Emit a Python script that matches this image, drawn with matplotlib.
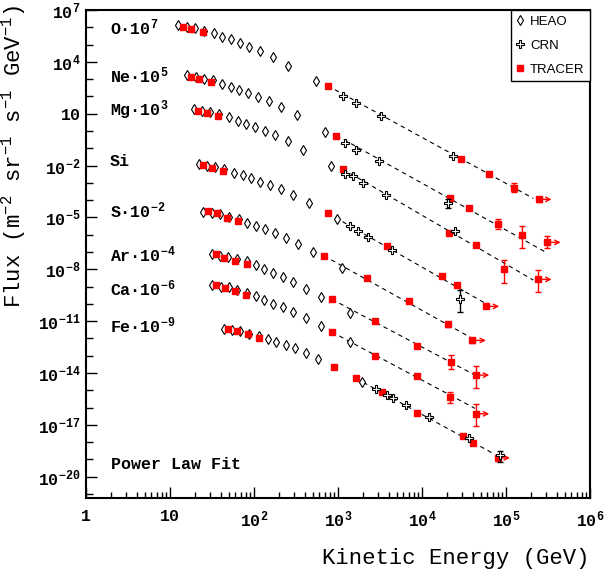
"""Flux spectra of cosmic-ray nuclei O..Fe from HEAO, CRN and TRACER, with power law fits."""

import numpy as np
import matplotlib

matplotlib.use("Agg")
import matplotlib.pyplot as plt
from matplotlib.ticker import FixedLocator, FixedFormatter, LogLocator, NullFormatter

# All values are log10: energy in GeV, flux scaled by the factor in the label.
O_HEAO_E = [1.099, 1.202, 1.298, 1.405, 1.520, 1.623, 1.726, 1.833, 1.944, 2.075, 2.223, 2.408, 2.738]
O_HEAO_F = [6.110, 6.034, 5.941, 5.802, 5.652, 5.455, 5.304, 5.108, 4.876, 4.645, 4.280, 3.777, 2.891]
O_TRACER_E = [1.151, 1.250, 1.389, 2.877, 4.464, 4.801, 5.095, 5.389]
O_TRACER_F = [5.999, 5.900, 5.709, 2.619, -1.605, -2.491, -3.272, -3.955]
O_CRN_E = [3.056, 3.214, 3.508, 4.373]
O_CRN_F = [2.041, 1.635, 0.866, -1.432]
O_FIT_E = [2.877, 5.325]
O_FIT_F = [2.619, -3.897]

NE_HEAO_E = [1.202, 1.306, 1.405, 1.508, 1.623, 1.726, 1.821, 1.932, 2.051, 2.179, 2.325, 2.508, 2.845]
NE_HEAO_F = [3.221, 3.105, 3.019, 2.932, 2.718, 2.561, 2.388, 2.214, 1.983, 1.734, 1.387, 0.906, -0.043]
NE_TRACER_E = [1.254, 1.349, 1.490, 2.982, 4.333, 4.563, 4.901, 5.194, 5.492]
NE_TRACER_F = [3.123, 3.036, 2.822, -0.263, -3.851, -4.441, -5.402, -5.992, -6.443]
NE_CRN_E = [3.086, 3.218, 3.488, 4.310]
NE_CRN_F = [-0.668, -1.102, -1.750, -4.169]
NE_FIT_E = [2.982, 5.464]
NE_FIT_F = [-0.263, -6.987]

MG_HEAO_E = [1.280, 1.381, 1.482, 1.586, 1.699, 1.804, 1.902, 2.014, 2.125, 2.254, 2.405, 2.586, 2.920]
MG_HEAO_F = [1.271, 1.167, 1.097, 0.964, 0.791, 0.605, 0.426, 0.258, 0.027, -0.251, -0.581, -1.073, -2.028]
MG_TRACER_E = [1.330, 1.437, 1.571, 3.063, 4.327, 4.643, 4.979, 5.385]
MG_TRACER_F = [1.184, 1.057, 0.866, -2.219, -5.905, -6.617, -8.006, -8.584]
MG_CRN_E = [3.083, 3.175, 3.301, 3.568, 4.393]
MG_CRN_F = [-2.491, -2.606, -2.994, -3.706, -5.772]
MG_FIT_E = [3.063, 5.325]
MG_FIT_F = [-2.219, -8.625]

SI_HEAO_E = [1.345, 1.443, 1.536, 1.646, 1.765, 1.865, 1.970, 2.074, 2.193, 2.319, 2.468, 2.655, 2.988]
SI_HEAO_F = [-1.929, -2.028, -2.074, -2.201, -2.416, -2.560, -2.722, -2.936, -3.116, -3.376, -3.718, -4.186, -5.112]
SI_TRACER_E = [1.396, 1.494, 1.635, 2.881, 3.587, 4.240, 4.420, 4.762]
SI_TRACER_F = [-1.987, -2.126, -2.317, -4.765, -6.628, -8.365, -8.885, -10.147]
SI_CRN_E = [3.143, 3.235, 3.361, 3.639, 4.456]
SI_CRN_F = [-5.483, -5.772, -6.119, -6.889, -9.725]
SI_FIT_E = [2.881, 4.770]
SI_FIT_F = [-4.765, -10.014]

S_HEAO_E = [1.396, 1.500, 1.595, 1.702, 1.825, 1.920, 2.024, 2.135, 2.254, 2.375, 2.527, 2.708, 3.044]
S_HEAO_F = [-4.672, -4.748, -4.806, -4.962, -5.095, -5.309, -5.500, -5.691, -5.894, -6.166, -6.513, -6.976, -7.913]
S_TRACER_E = [1.449, 1.556, 1.682, 1.813, 2.833, 3.345, 3.849, 4.310, 4.599]
S_TRACER_F = [-4.632, -4.730, -5.020, -5.228, -7.219, -8.492, -9.823, -11.189, -12.115]
S_CRN_E = []
S_CRN_F = []
S_FIT_E = [2.833, 4.599]
S_FIT_F = [-7.219, -11.999]

AR_HEAO_E = [1.495, 1.595, 1.696, 1.795, 1.917, 2.024, 2.123, 2.230, 2.342, 2.470, 2.623, 2.801, 3.143]
AR_HEAO_F = [-7.138, -7.236, -7.277, -7.427, -7.543, -7.757, -8.006, -8.203, -8.451, -8.741, -9.117, -9.591, -10.552]
AR_TRACER_E = [1.548, 1.646, 1.774, 1.911, 2.929, 3.444, 3.940, 4.345, 4.639]
AR_TRACER_F = [-7.132, -7.334, -7.514, -7.670, -9.742, -11.015, -12.444, -13.353, -14.123]
AR_CRN_E = []
AR_CRN_F = []
AR_FIT_E = [2.929, 4.631]
AR_FIT_F = [-9.742, -14.123]

CA_HEAO_E = [1.496, 1.604, 1.699, 1.798, 1.917, 2.024, 2.123, 2.230, 2.342, 2.470, 2.623, 2.801, 3.139]
CA_HEAO_F = [-8.914, -9.013, -9.047, -9.175, -9.377, -9.551, -9.800, -9.997, -10.205, -10.477, -10.841, -11.270, -12.213]
CA_TRACER_E = [1.548, 1.652, 1.774, 1.908, 2.929, 3.444, 3.944, 4.339, 4.639]
CA_TRACER_F = [-8.885, -9.071, -9.279, -9.505, -11.634, -13.023, -14.198, -15.378, -16.362]
CA_CRN_E = []
CA_CRN_F = []
CA_FIT_E = [2.929, 4.631]
CA_FIT_F = [-11.634, -16.050]

FE_HEAO_E = [1.646, 1.743, 1.836, 1.940, 2.063, 2.163, 2.264, 2.375, 2.488, 2.617, 2.764, 3.286]
FE_HEAO_F = [-11.461, -11.530, -11.576, -11.733, -11.883, -12.039, -12.225, -12.375, -12.578, -12.850, -13.179, -14.510]
FE_TRACER_E = [1.696, 1.794, 1.923, 2.054, 2.956, 3.214, 3.518, 3.940, 4.492, 4.604, 4.899]
FE_TRACER_F = [-11.432, -11.576, -11.767, -11.981, -13.677, -14.314, -15.106, -16.304, -17.653, -18.058, -18.909]
FE_CRN_E = [3.456, 3.583, 3.655, 3.804, 4.086, 4.554, 4.932]
FE_CRN_F = [-14.944, -15.251, -15.471, -15.870, -16.571, -17.786, -18.752]
FE_FIT_E = [3.214, 4.869]
FE_FIT_F = [-14.314, -18.712]

# TRACER vertical error bars (log10 E, log10 F, lower, upper)
TRACER_ERR_E = [5.095, 5.389, 4.901, 5.194, 5.492, 4.643, 4.979, 5.385, 4.420, 4.762, 4.310, 4.599,
                4.345, 4.639, 4.339, 4.639, 4.899]
TRACER_ERR_F = [-3.272, -3.955, -5.402, -5.992, -6.443, -6.617, -8.006, -8.584, -8.885, -10.147, -11.189,
                -12.115, -13.353, -14.123, -15.378, -16.362, -18.909]
TRACER_ERR_LO = [-3.515, -4.080, -5.690, -6.756, -6.790, -6.720, -8.816, -9.337, -8.990, -10.250, -11.350,
                 -12.250, -13.793, -14.858, -15.726, -17.074, -19.000]
TRACER_ERR_HI = [-3.029, -3.830, -5.110, -5.483, -6.060, -6.520, -7.468, -8.046, -8.780, -10.050, -11.030,
                 -11.980, -12.965, -13.602, -15.106, -15.818, -18.800]

# CRN vertical error bars
CRN_ERR_E = [4.310, 4.456, 4.932]
CRN_ERR_F = [-4.169, -9.725, -18.752]
CRN_ERR_LO = [-4.430, -10.459, -19.140]
CRN_ERR_HI = [-3.910, -9.204, -18.503]

# TRACER lower limits in energy (arrow from E to E_END)
LIMIT_E = [5.389, 5.492, 5.385, 4.762, 4.599, 4.639, 4.639, 4.899]
LIMIT_E_END = [5.543, 5.651, 5.544, 4.920, 4.762, 4.801, 4.801, 5.048]
LIMIT_F = [-3.955, -6.443, -8.584, -10.147, -12.115, -14.123, -16.362, -18.909]

LABELS = ["O\u00b710$^{7}$", "Ne\u00b710$^{5}$", "Mg\u00b710$^{3}$", "Si", "S\u00b710$^{-2}$",
          "Ar\u00b710$^{-4}$", "Ca\u00b710$^{-6}$", "Fe\u00b710$^{-9}$"]
LABEL_Y = [0.963, 0.866, 0.795, 0.690, 0.588, 0.498, 0.430, 0.353]

YTICK_EXP = [7, 4, 1, -2, -5, -8, -11, -14, -17, -20]
XTICK_EXP = [0, 1, 2, 3, 4, 5, 6]

SERIES = [
    (O_HEAO_E, O_HEAO_F, O_TRACER_E, O_TRACER_F, O_CRN_E, O_CRN_F, O_FIT_E, O_FIT_F),
    (NE_HEAO_E, NE_HEAO_F, NE_TRACER_E, NE_TRACER_F, NE_CRN_E, NE_CRN_F, NE_FIT_E, NE_FIT_F),
    (MG_HEAO_E, MG_HEAO_F, MG_TRACER_E, MG_TRACER_F, MG_CRN_E, MG_CRN_F, MG_FIT_E, MG_FIT_F),
    (SI_HEAO_E, SI_HEAO_F, SI_TRACER_E, SI_TRACER_F, SI_CRN_E, SI_CRN_F, SI_FIT_E, SI_FIT_F),
    (S_HEAO_E, S_HEAO_F, S_TRACER_E, S_TRACER_F, S_CRN_E, S_CRN_F, S_FIT_E, S_FIT_F),
    (AR_HEAO_E, AR_HEAO_F, AR_TRACER_E, AR_TRACER_F, AR_CRN_E, AR_CRN_F, AR_FIT_E, AR_FIT_F),
    (CA_HEAO_E, CA_HEAO_F, CA_TRACER_E, CA_TRACER_F, CA_CRN_E, CA_CRN_F, CA_FIT_E, CA_FIT_F),
    (FE_HEAO_E, FE_HEAO_F, FE_TRACER_E, FE_TRACER_F, FE_CRN_E, FE_CRN_F, FE_FIT_E, FE_FIT_F),
]

HEAO_STYLE = dict(ls="none", marker="d", ms=5.0, mfc="white", mec="black", mew=0.8)
CRN_STYLE = dict(ls="none", marker="P", ms=5.5, mfc="white", mec="black", mew=0.8)
TRACER_STYLE = dict(ls="none", marker="s", ms=3.8, color="red")


def dex(values):
    return np.power(10.0, np.asarray(values, dtype=float))


def main():
    plt.rcParams["font.family"] = ["Liberation Mono", "DejaVu Sans"]
    plt.rcParams["font.weight"] = "bold"
    plt.rcParams["mathtext.default"] = "regular"

    fig = plt.figure(figsize=(6.04, 5.75), dpi=100)
    ax = fig.add_axes([0.1424, 0.1334, 0.8344, 0.8492])
    ax.set_xscale("log")
    ax.set_yscale("log")

    for heao_e, heao_f, tr_e, tr_f, crn_e, crn_f, fit_e, fit_f in SERIES:
        ax.plot(dex(fit_e), dex(fit_f), ls=(0, (4, 3.5)), color="black", lw=0.8, zorder=2)
        ax.plot(dex(heao_e), dex(heao_f), zorder=3, **HEAO_STYLE)
        ax.plot(dex(tr_e), dex(tr_f), zorder=4, **TRACER_STYLE)
        if crn_e:
            ax.plot(dex(crn_e), dex(crn_f), zorder=5, **CRN_STYLE)

    y = dex(TRACER_ERR_F)
    ax.errorbar(dex(TRACER_ERR_E), y, yerr=[y - dex(TRACER_ERR_LO), dex(TRACER_ERR_HI) - y],
                fmt="none", ecolor="red", elinewidth=1.0, capsize=2, capthick=1.0, zorder=4)
    y = dex(CRN_ERR_F)
    ax.errorbar(dex(CRN_ERR_E), y, yerr=[y - dex(CRN_ERR_LO), dex(CRN_ERR_HI) - y],
                fmt="none", ecolor="black", elinewidth=1.0, capsize=2, capthick=1.0, zorder=4)
    for e0, e1, f in zip(LIMIT_E, LIMIT_E_END, LIMIT_F):
        ax.annotate("", xy=(10 ** e1, 10 ** f), xytext=(10 ** e0, 10 ** f),
                    arrowprops=dict(arrowstyle="->", color="red", lw=1.0, shrinkA=0, shrinkB=0,
                                    mutation_scale=8), zorder=4)

    # legend proxies
    ax.plot([], [], label="HEAO", **HEAO_STYLE)
    ax.plot([], [], label="CRN", **CRN_STYLE)
    ax.plot([], [], label="TRACER", **TRACER_STYLE)
    leg = ax.legend(loc="upper right", bbox_to_anchor=(1.0, 1.0), borderaxespad=0.0,
                    prop={"family": "Liberation Sans", "weight": "normal", "size": 9.5},
                    fancybox=False, edgecolor="black", framealpha=1.0, handlelength=0.6,
                    handletextpad=0.45, labelspacing=0.9, borderpad=0.4)
    leg.get_frame().set_linewidth(1.0)

    for label, yy in zip(LABELS, LABEL_Y):
        ax.text(0.047, yy, label, transform=ax.transAxes, fontsize=12, va="center", ha="left")
    ax.text(0.049, 0.070, "Power Law Fit", transform=ax.transAxes, fontsize=12, va="center",
            ha="left")

    ax.set_xlim(1.0, 1e6)
    ax.set_ylim(10 ** -21.25, 1e7)

    ax.xaxis.set_major_locator(FixedLocator(dex(XTICK_EXP)))
    ax.xaxis.set_major_formatter(FixedFormatter(
        ["1", "10"] + [f"10$^{{{k}}}$" for k in XTICK_EXP[2:]]))
    ax.xaxis.set_minor_locator(LogLocator(base=10, subs=np.arange(2, 10), numticks=20))
    ax.xaxis.set_minor_formatter(NullFormatter())

    ax.yaxis.set_major_locator(FixedLocator(dex(YTICK_EXP)))
    ax.yaxis.set_major_formatter(FixedFormatter(
        ["10" if k == 1 else f"10$^{{{k}}}$" for k in YTICK_EXP]))
    ax.yaxis.set_minor_locator(FixedLocator(dex(np.arange(-21, 8))))
    ax.yaxis.set_minor_formatter(NullFormatter())

    ax.tick_params(which="both", direction="in", top=False, right=False, labelsize=12)
    ax.tick_params(axis="x", which="major", length=8, width=1.0, pad=8)
    ax.tick_params(axis="x", which="minor", length=4, width=1.0)
    ax.tick_params(axis="y", which="major", length=8, width=1.0, pad=4)
    ax.tick_params(axis="y", which="minor", length=5, width=1.0)
    for spine in ax.spines.values():
        spine.set_linewidth(1.5)

    ax.set_xlabel("Kinetic Energy (GeV)", fontsize=16, ha="right", va="center")
    ax.xaxis.set_label_coords(1.0, -0.124)
    ax.set_ylabel("Flux (m$^{-2}$ sr$^{-1}$ s$^{-1}$ GeV$^{-1}$)", fontsize=16, ha="right")
    ax.yaxis.set_label_coords(-0.115, 1.01)

    fig.savefig("out.png", dpi=100)


if __name__ == "__main__":
    main()
